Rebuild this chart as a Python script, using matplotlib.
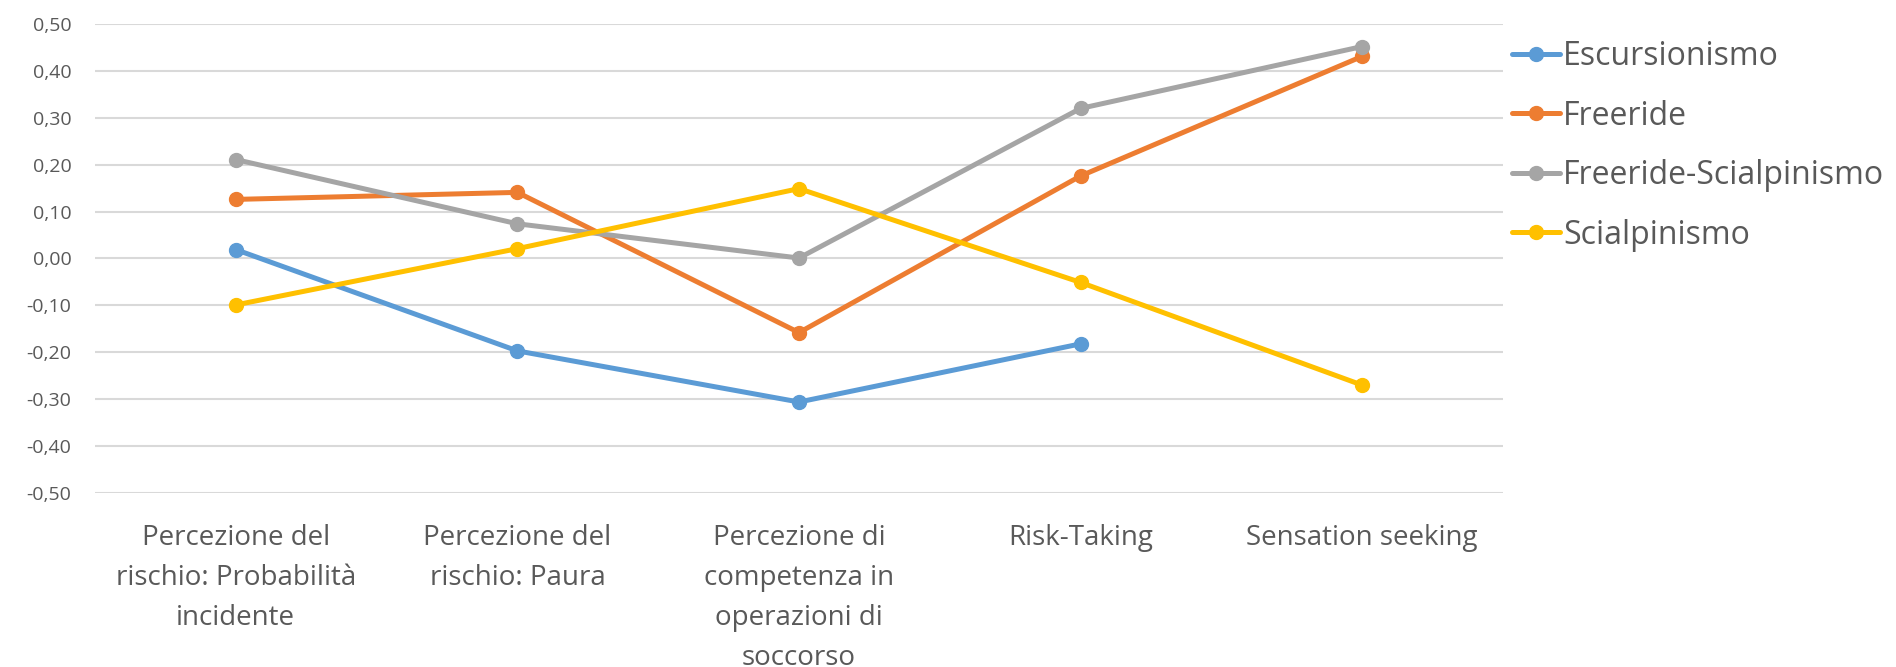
import numpy as np
import matplotlib
matplotlib.use("Agg")
import matplotlib.pyplot as plt
from matplotlib.ticker import FuncFormatter, MultipleLocator

plt.rcParams['font.family'] = ['Open Sans', 'DejaVu Sans']

categories = [
    "Percezione del\nrischio: Probabilità\nincidente",
    "Percezione del\nrischio: Paura",
    "Percezione di\ncompetenza in\noperazioni di\nsoccorso",
    "Risk-Taking",
    "Sensation seeking",
]
escursionismo = [0.019, -0.197, -0.306, -0.182, np.nan]
freeride = [0.126, 0.141, -0.158, 0.176, 0.431]
freeride_scialpinismo = [0.211, 0.074, 0.001, 0.320, 0.452]
scialpinismo = [-0.099, 0.021, 0.149, -0.051, -0.270]

series_names = ["Escursionismo", "Freeride", "Freeride-Scialpinismo", "Scialpinismo"]
colors = ["#5B9BD5", "#ED7D31", "#A5A5A5", "#FFC000"]
text_color = "#595959"

fig = plt.figure(figsize=(18.96, 6.67), dpi=100)
ax = fig.add_axes([95/1896, 1-493/667, (1503-95)/1896, (493-24)/667])

x = np.arange(len(categories))
for vals, name, c in zip([escursionismo, freeride, freeride_scialpinismo, scialpinismo], series_names, colors):
    ax.plot(x, vals, color=c, lw=3.6, marker='o', markersize=10, label=name,
            solid_capstyle='round', zorder=3)

ax.set_xlim(-0.5, len(categories) - 0.5)
ax.set_ylim(-0.5, 0.5)
ax.yaxis.set_major_locator(MultipleLocator(0.1))
ax.yaxis.set_major_formatter(FuncFormatter(lambda v, p: f"{v:.2f}".replace('.', ',').replace('-0,00', '0,00')))
ax.grid(axis='y', color='#D9D9D9', lw=1.5, zorder=0)
ax.set_axisbelow(True)
for s in ax.spines.values():
    s.set_visible(False)
ax.set_xticks(x)
ax.set_xticklabels(categories, fontsize=20, color=text_color, linespacing=1.58)
ax.tick_params(axis='x', length=0, pad=22)
ax.tick_params(axis='y', length=0, pad=17, labelsize=14, labelcolor=text_color)

leg = fig.legend(loc='upper left', bbox_to_anchor=(1512/1896, 1-40/667), frameon=False,
                 fontsize=23, handlelength=1.5, handletextpad=0.1, labelspacing=0.83,
                 borderaxespad=0, borderpad=0)
for t in leg.get_texts():
    t.set_color(text_color)

fig.savefig("out.png", dpi=100)
